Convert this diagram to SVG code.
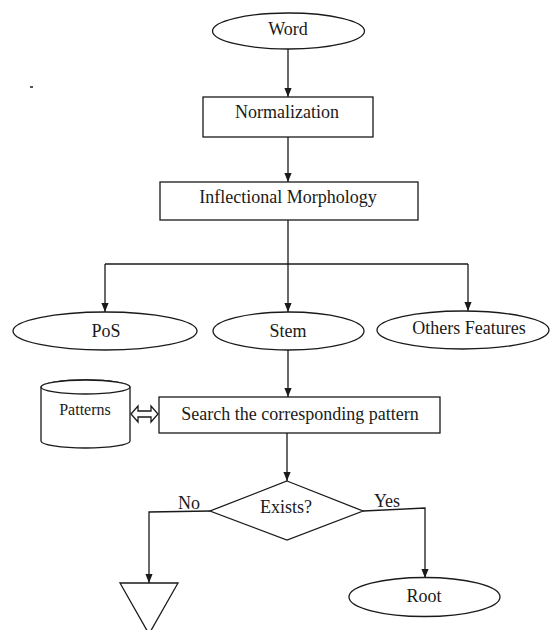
<svg xmlns="http://www.w3.org/2000/svg" width="551" height="630" viewBox="0 0 551 630">
  <style>
    .shape { fill: #ffffff; stroke: #1a1a1a; stroke-width: 1.3; }
    .line { fill: none; stroke: #1a1a1a; stroke-width: 1.3; }
    .arrow { marker-end: url(#head); }
    text { font-family: "Liberation Serif", "Times New Roman", serif; font-size: 18px; fill: #1a1a1a; text-anchor: middle; }
    .small { font-size: 16px; }
  </style>
  <defs>
    <marker id="head" viewBox="0 0 10 10" refX="10" refY="5" markerWidth="9" markerHeight="9" markerUnits="userSpaceOnUse" orient="auto">
      <path d="M0,1 L10,5 L0,9 Z" fill="#1a1a1a"/>
    </marker>
  </defs>
  <rect width="551" height="630" fill="#ffffff"/>

  <!-- stray mark -->
  <rect x="30" y="86" width="3" height="2" fill="#555555"/>

  <!-- connectors -->
  <g id="connectors">
    <line class="line arrow" x1="288" y1="49" x2="288" y2="97"/>
    <line class="line arrow" x1="288" y1="137" x2="288" y2="182"/>
    <line class="line" x1="288" y1="220" x2="288" y2="264"/>
    <line class="line" x1="105" y1="264" x2="468" y2="264"/>
    <line class="line arrow" x1="105" y1="264" x2="105" y2="312"/>
    <line class="line arrow" x1="288" y1="264" x2="288" y2="312"/>
    <line class="line arrow" x1="468" y1="264" x2="468" y2="311"/>
    <line class="line arrow" x1="288" y1="350" x2="288" y2="397"/>
    <line class="line arrow" x1="287" y1="433" x2="287" y2="481"/>
    <polyline class="line arrow" points="210,511 149,512 149,583"/>
    <polyline class="line arrow" points="363,511 425,508 425,578"/>
    <!-- two-way link between store and search -->
    <polygon class="shape" points="131,414 138,406 138,411 151,411 151,406 158,414 151,422 151,417 138,417 138,422"/>
    <text x="189" y="509">No</text>
    <text x="387" y="507">Yes</text>
  </g>

  <g id="word">
    <ellipse class="shape" cx="288.5" cy="31" rx="76" ry="18"/>
    <text x="288" y="35">Word</text>
  </g>

  <g id="normalization">
    <rect class="shape" x="203" y="97" width="170" height="40"/>
    <text x="287" y="118">Normalization</text>
  </g>

  <g id="inflectional">
    <rect class="shape" x="160" y="182" width="258" height="38"/>
    <text x="288" y="203">Inflectional Morphology</text>
  </g>

  <g id="pos">
    <ellipse class="shape" cx="105" cy="331" rx="92" ry="19"/>
    <text x="106" y="337">PoS</text>
  </g>

  <g id="stem">
    <ellipse class="shape" cx="288.5" cy="331" rx="75.5" ry="19"/>
    <text x="288" y="337">Stem</text>
  </g>

  <g id="others">
    <ellipse class="shape" cx="463" cy="330" rx="86" ry="19"/>
    <text x="469" y="334">Others Features</text>
  </g>

  <g id="patterns">
    <path class="shape" d="M41,387 L41,441 A44.5,7 0 0 0 130,441 L130,387 A44.5,7 0 0 0 41,387 Z"/>
    <ellipse class="shape" cx="85.5" cy="387" rx="44.5" ry="7"/>
    <text class="small" x="85" y="415">Patterns</text>
  </g>

  <g id="search">
    <rect class="shape" x="159" y="397" width="281" height="36"/>
    <text x="300" y="420">Search the corresponding pattern</text>
  </g>

  <g id="exists">
    <polygon class="shape" points="287,481 363,511 287,540 210,511"/>
    <text x="286" y="513">Exists?</text>
  </g>

  <g id="reject">
    <polygon class="shape" points="120,583 178,583 149,634"/>
  </g>

  <g id="root">
    <ellipse class="shape" cx="424.5" cy="597" rx="75.5" ry="19.5"/>
    <text x="424" y="602">Root</text>
  </g>
</svg>
